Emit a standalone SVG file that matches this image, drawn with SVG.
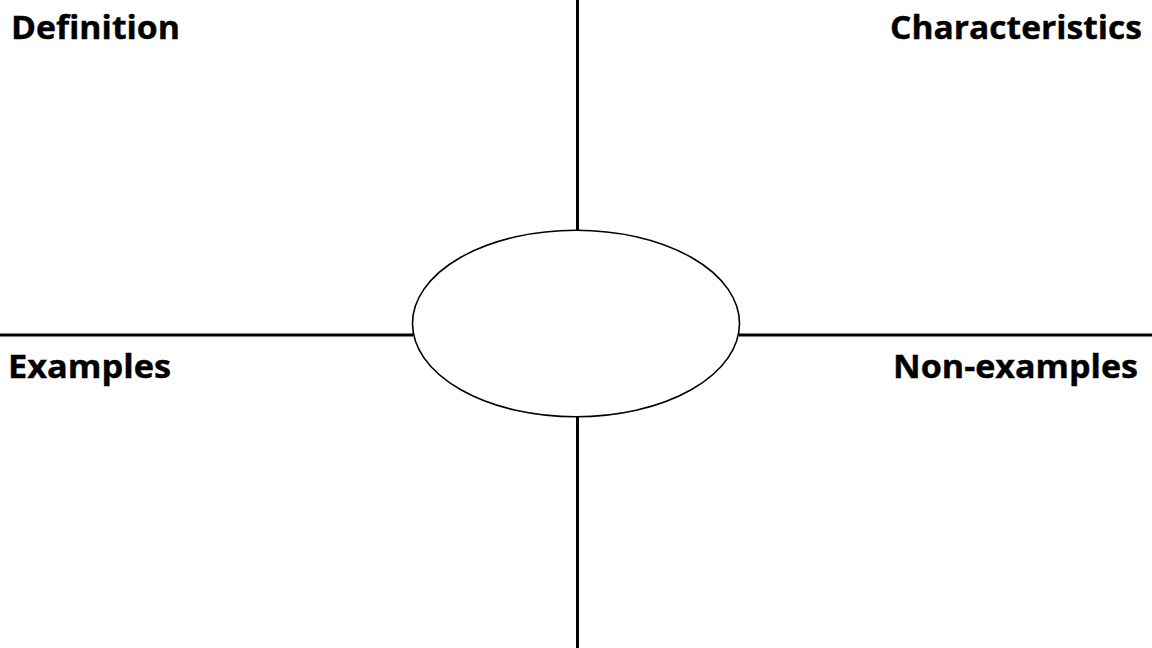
<svg xmlns="http://www.w3.org/2000/svg" width="1152" height="648" viewBox="0 0 1152 648">
<style>
.lbl{font-family:"Open Sans","Liberation Sans",sans-serif;font-weight:700;font-size:33px;fill:#000;stroke:#000;stroke-width:0.4}
.ln{stroke:#000;stroke-width:3;fill:none}
</style>
<rect width="1152" height="648" fill="#fff"/>
<g id="connectors">
<line class="ln" x1="577.5" y1="0" x2="577.5" y2="231"/>
<line class="ln" x1="577.5" y1="416" x2="577.5" y2="648"/>
<line class="ln" x1="0" y1="335" x2="413" y2="335"/>
<line class="ln" x1="739" y1="335" x2="1152" y2="335"/>
</g>
<g id="center">
<ellipse cx="576" cy="323.5" rx="163.5" ry="93.3" fill="#fff" stroke="#000" stroke-width="1.6"/>
</g>
<g id="definition"><text class="lbl" x="11" y="39" textLength="169" lengthAdjust="spacingAndGlyphs">Definition</text></g>
<g id="characteristics"><text class="lbl" x="890" y="39" textLength="252" lengthAdjust="spacingAndGlyphs">Characteristics</text></g>
<g id="examples"><text class="lbl" x="8" y="378" textLength="163" lengthAdjust="spacingAndGlyphs">Examples</text></g>
<g id="nonexamples"><text class="lbl" x="893" y="378" textLength="245" lengthAdjust="spacingAndGlyphs">Non-examples</text></g>
</svg>
